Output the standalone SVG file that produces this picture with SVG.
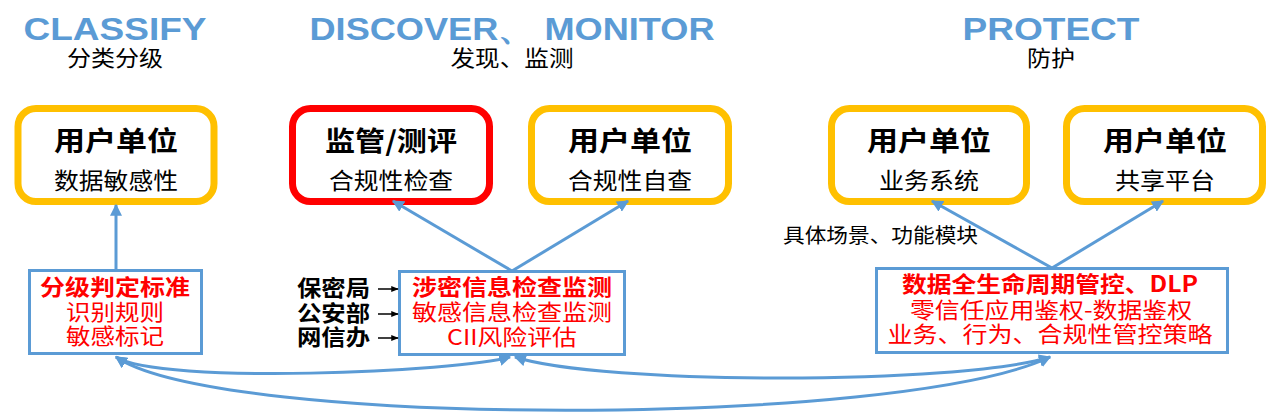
<svg xmlns="http://www.w3.org/2000/svg" width="1268" height="413" viewBox="0 0 1268 413">
<style>
.hdr{font-family:"Liberation Sans",Arial,sans-serif;font-weight:bold;font-size:32px;fill:#5B9BD5;text-anchor:middle}
.sub{font-family:"Noto Sans CJK SC",sans-serif;font-size:22px;fill:#000;text-anchor:middle}
.ybox{fill:#fff;stroke:#FFC000;stroke-width:7}
.rbox{fill:#fff;stroke:#FF0000;stroke-width:7}
.t1{font-family:"Noto Sans CJK SC",sans-serif;font-weight:bold;font-size:27px;fill:#000;text-anchor:middle}
.t2{font-family:"Noto Sans CJK SC",sans-serif;font-size:23px;fill:#000;text-anchor:middle}
.bbox{fill:#fff;stroke:#5B9BD5;stroke-width:3}
.rb{font-family:"Noto Sans CJK SC",sans-serif;font-weight:bold;font-size:22px;fill:#FF0000;text-anchor:middle}
.rn{font-family:"Noto Sans CJK SC",sans-serif;font-size:22px;fill:#FF0000;text-anchor:middle}
.lbl{font-family:"Noto Sans CJK SC",sans-serif;font-weight:bold;font-size:22px;fill:#000}
.note{font-family:"Noto Sans CJK SC",sans-serif;font-size:20px;fill:#000}
.con{fill:none;stroke:#5B9BD5;stroke-width:3}
.blk{fill:none;stroke:#000;stroke-width:1.5}
</style>
<defs>
<marker id="ah" viewBox="0 0 10 10" refX="9" refY="5" markerWidth="4" markerHeight="4" orient="auto-start-reverse" markerUnits="strokeWidth">
<path d="M0,0 L10,5 L0,10 z" fill="#5B9BD5"/>
</marker>
<marker id="ak" viewBox="0 0 10 10" refX="9" refY="5" markerWidth="5" markerHeight="5" orient="auto" markerUnits="strokeWidth">
<path d="M0,1 L10,5 L0,9 z" fill="#000"/>
</marker>
</defs>

<g id="headers">
<text class="hdr" x="115" y="40" textLength="183" lengthAdjust="spacingAndGlyphs">CLASSIFY</text>
<text class="sub" x="115" y="66" textLength="96" lengthAdjust="spacingAndGlyphs">分类分级</text>
<text class="hdr" x="512" y="40" textLength="405" lengthAdjust="spacingAndGlyphs">DISCOVER、 MONITOR</text>
<text class="sub" x="512" y="66" textLength="123" lengthAdjust="spacingAndGlyphs">发现、监测</text>
<text class="hdr" x="1051" y="40" textLength="177" lengthAdjust="spacingAndGlyphs">PROTECT</text>
<text class="sub" x="1051" y="66" textLength="48" lengthAdjust="spacingAndGlyphs">防护</text>
</g>

<g id="node-classify-user">
<rect class="ybox" x="18" y="108.5" width="196" height="93" rx="18"/>
<text class="t1" x="116" y="151" textLength="124" lengthAdjust="spacingAndGlyphs">用户单位</text>
<text class="t2" x="116" y="189" textLength="124" lengthAdjust="spacingAndGlyphs">数据敏感性</text>
</g>
<g id="node-regulator">
<rect class="rbox" x="292.5" y="108.5" width="197" height="93" rx="18"/>
<text class="t1" x="391" y="151" textLength="132" lengthAdjust="spacingAndGlyphs">监管/测评</text>
<text class="t2" x="391" y="189" textLength="124" lengthAdjust="spacingAndGlyphs">合规性检查</text>
</g>
<g id="node-discover-user">
<rect class="ybox" x="531.5" y="108.5" width="197" height="93" rx="18"/>
<text class="t1" x="630" y="151" textLength="124" lengthAdjust="spacingAndGlyphs">用户单位</text>
<text class="t2" x="630" y="189" textLength="124" lengthAdjust="spacingAndGlyphs">合规性自查</text>
</g>
<g id="node-protect-business">
<rect class="ybox" x="831.5" y="108.5" width="195" height="93" rx="18"/>
<text class="t1" x="929" y="151" textLength="124" lengthAdjust="spacingAndGlyphs">用户单位</text>
<text class="t2" x="929" y="189" textLength="100" lengthAdjust="spacingAndGlyphs">业务系统</text>
</g>
<g id="node-protect-share">
<rect class="ybox" x="1066.5" y="108.5" width="196" height="93" rx="18"/>
<text class="t1" x="1165" y="151" textLength="124" lengthAdjust="spacingAndGlyphs">用户单位</text>
<text class="t2" x="1165" y="189" textLength="100" lengthAdjust="spacingAndGlyphs">共享平台</text>
</g>

<g id="node-classify-standard">
<rect class="bbox" x="29.5" y="270.5" width="172" height="83"/>
<text class="rb" x="115" y="295" textLength="150" lengthAdjust="spacingAndGlyphs">分级判定标准</text>
<text class="rn" x="115" y="320" textLength="98" lengthAdjust="spacingAndGlyphs">识别规则</text>
<text class="rn" x="115" y="344" textLength="98" lengthAdjust="spacingAndGlyphs">敏感标记</text>
</g>
<g id="node-monitor">
<rect class="bbox" x="399.5" y="271.5" width="225" height="83"/>
<text class="rb" x="512" y="295" textLength="200" lengthAdjust="spacingAndGlyphs">涉密信息检查监测</text>
<text class="rn" x="512" y="320" textLength="200" lengthAdjust="spacingAndGlyphs">敏感信息检查监测</text>
<text class="rn" x="512" y="345" textLength="130" lengthAdjust="spacingAndGlyphs">CII风险评估</text>
</g>
<g id="node-protect-measures">
<rect class="bbox" x="876.5" y="268.5" width="351" height="84"/>
<text class="rb" x="1050" y="292" textLength="296" lengthAdjust="spacingAndGlyphs">数据全生命周期管控、DLP</text>
<text class="rn" x="1051" y="318" textLength="282" lengthAdjust="spacingAndGlyphs">零信任应用鉴权-数据鉴权</text>
<text class="rn" x="1050" y="342" textLength="325" lengthAdjust="spacingAndGlyphs">业务、行为、合规性管控策略</text>
</g>

<g id="labels">
<text class="lbl" x="297" y="296" textLength="73" lengthAdjust="spacingAndGlyphs">保密局</text>
<text class="lbl" x="297" y="321" textLength="73" lengthAdjust="spacingAndGlyphs">公安部</text>
<text class="lbl" x="297" y="345" textLength="73" lengthAdjust="spacingAndGlyphs">网信办</text>
<text class="note" x="783" y="243" textLength="195" lengthAdjust="spacingAndGlyphs">具体场景、功能模块</text>
</g>

<g id="connectors">
<line class="con" x1="116" y1="270" x2="116" y2="205" marker-end="url(#ah)"/>
<line class="con" x1="512" y1="271" x2="393" y2="201" marker-end="url(#ah)"/>
<line class="con" x1="512" y1="271" x2="628" y2="201" marker-end="url(#ah)"/>
<line class="con" x1="1052" y1="268" x2="932" y2="201" marker-end="url(#ah)"/>
<line class="con" x1="1052" y1="268" x2="1163" y2="201" marker-end="url(#ah)"/>
<path class="con" d="M116,357 C160,385 460,372 510,357" marker-start="url(#ah)" marker-end="url(#ah)"/>
<path class="con" d="M515,357 C600,385 960,385 1050,357" marker-start="url(#ah)" marker-end="url(#ah)"/>
<path class="con" d="M116,357 C220,428 900,428 1050,357" marker-start="url(#ah)" marker-end="url(#ah)"/>
<line class="blk" x1="378" y1="289" x2="398" y2="289" marker-end="url(#ak)"/>
<line class="blk" x1="378" y1="314" x2="398" y2="314" marker-end="url(#ak)"/>
<line class="blk" x1="378" y1="338" x2="398" y2="338" marker-end="url(#ak)"/>
</g>
</svg>
